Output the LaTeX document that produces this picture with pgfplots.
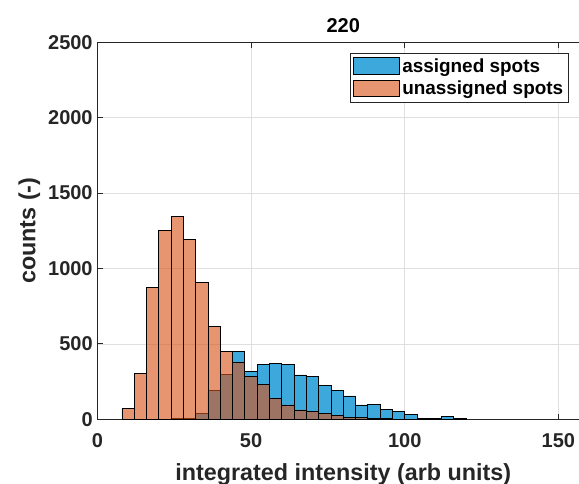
\documentclass[border=0pt]{standalone}
\usepackage{fontspec}
\setmainfont{Liberation Sans}
\usepackage{pgfplots}
\pgfplotsset{compat=1.18}

\definecolor{assignedblue}{RGB}{60,168,220}
\definecolor{unassignedorange}{RGB}{217,83,25}
\definecolor{axisgray}{RGB}{38,38,38}

\begin{document}
\begin{tikzpicture}
\begin{axis}[
  name=ax,
  scale only axis,
  width=368.8pt, height=282.75pt,
  xmin=0, xmax=160, ymin=0, ymax=2500,
  xtick={0,50,100,150},
  ytick={0,500,1000,1500,2000,2500},
  axis x line*=box, axis y line*=left,
  axis line style={axisgray, line width=0.7pt},
  tick style={axisgray, line width=0.7pt},
  tick align=inside,
  major tick length=4pt,
  grid=major,
  grid style={gray!25, line width=0.5pt},
  /pgf/number format/assume math mode=true,
  /pgf/number format/1000 sep={},
  tick label style={font=\bfseries\fontsize{15}{18}\selectfont, text=axisgray},
  xticklabel style={yshift=-7pt},
  xlabel={integrated intensity (arb units)},
  ylabel={counts (-)},
  label style={font=\bfseries\fontsize{17.5}{20}\selectfont, text=axisgray},
  xlabel style={yshift=-5pt},
  ylabel style={yshift=-1pt},
  title={220},
  title style={font=\bfseries\fontsize{15}{18}\selectfont, yshift=-2pt},
  legend style={at={(0.959,0.972)}, anchor=north east,
    font=\bfseries\fontsize{14.2}{17}\selectfont,
    draw=axisgray, line width=0.6pt, inner sep=2pt,
    row sep=1pt},
  legend cell align=left,
  legend image code/.code={%
    \draw[#1, line width=0.7pt] (0pt,-6pt) rectangle (34pt,6.5pt);},
]
% assigned spots, bin width 4
\addplot[ybar interval, fill=assignedblue, draw=black, line width=0.6pt]
  coordinates {
  (24,3) (28,7) (32,40) (36,190) (40,298) (44,448) (48,318) (52,365)
  (56,371) (60,365) (64,294) (68,282) (72,223) (76,194) (80,155)
  (84,95) (88,101) (92,66) (96,50) (100,35) (104,5) (108,5) (112,17)
  (116,3) (120,3)};
\addlegendentry{assigned spots}
% unassigned spots, bin width 4, drawn semi-transparent on top
\addplot[ybar interval, fill=unassignedorange, fill opacity=0.62,
  draw=black, draw opacity=1, line width=0.6pt]
  coordinates {
  (8,73) (12,305) (16,873) (20,1255) (24,1348) (28,1194) (32,906)
  (36,614) (40,448) (44,378) (48,282) (52,230) (56,139) (60,95)
  (64,62) (68,55) (72,40) (76,24) (80,11) (84,11) (88,6) (92,3)
  (96,2) (100,1) (104,1) (108,1)};
\addlegendentry{unassigned spots}
\end{axis}
\pgfresetboundingbox
\useasboundingbox ([shift={(-73pt,-48.5pt)}]ax.south west)
  rectangle ([shift={(-7.6pt,31.7pt)}]ax.north east);
\end{tikzpicture}
\end{document}
